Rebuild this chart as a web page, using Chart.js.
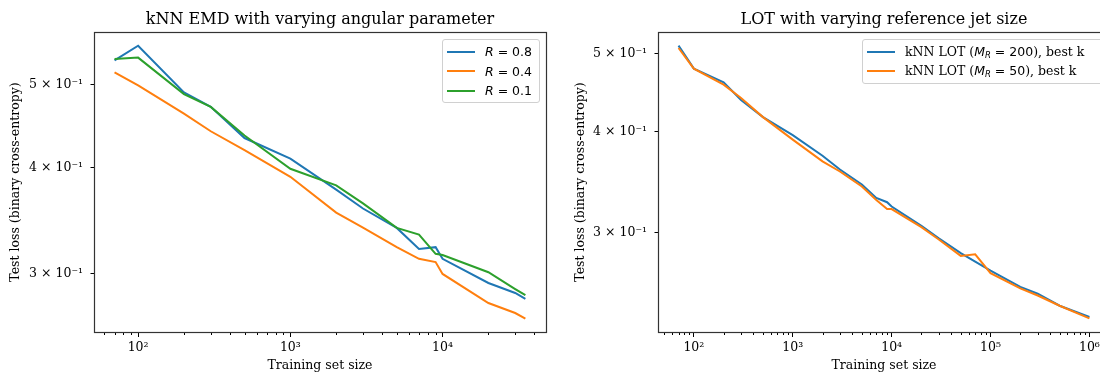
<!DOCTYPE html>
<html>
<head>
<meta charset="utf-8">
<script src="https://cdn.jsdelivr.net/npm/chart.js@4.4.1/dist/chart.umd.min.js"></script>
<style>
  html, body { margin: 0; padding: 0; background: #fff; }
  body { width: 1100px; height: 374px; overflow: hidden; position: relative; }
  .wrap { position: absolute; top: 0; height: 374px; }
  #wrapLeft { left: 0; width: 550px; }
  #wrapRight { left: 560px; width: 560px; }
  .legend {
    position: absolute; box-sizing: border-box; z-index: 5;
    border: 1px solid #d0d0d0; border-radius: 3px;
    background: rgba(255,255,255,0.8); padding-top: 2px;
    font-size: 12.5px; color: #000;
  }
  .legend .row { height: 19.5px; display: flex; align-items: center; white-space: nowrap; }
  .legend .swatch { width: 28px; height: 2px; margin-left: 4px; margin-right: 10px; flex: none; }
  .math { font-family: "DejaVu Sans", sans-serif; }
  .serif { font-family: "DejaVu Serif", serif; }
  sub { font-size: 8.5px; font-style: italic; vertical-align: -2px; }
</style>
</head>
<body>
<div class="wrap" id="wrapLeft"><canvas id="leftChart" width="550" height="374"></canvas></div>
<div class="wrap" id="wrapRight"><canvas id="rightChart" width="560" height="374"></canvas></div>
<div class="legend" id="legendLeft" style="left:442px; top:39px; width:98px; height:64px;"></div>
<div class="legend" id="legendRight" style="left:862px; top:39px; width:242px; height:45px;"></div>

<script>
// ---- data ----
const sizesLeft = [70, 100, 200, 300, 500, 1000, 2000, 3000, 5000, 7000, 9000, 10000, 20000, 30000, 35000];
const lossR08 = [0.534, 0.5555, 0.4897, 0.471, 0.433, 0.4095, 0.3767, 0.358, 0.3397, 0.321, 0.3225, 0.3125, 0.2928, 0.285, 0.2805];
const lossR04 = [0.517, 0.499, 0.4625, 0.441, 0.419, 0.390, 0.354, 0.340, 0.3225, 0.3125, 0.3098, 0.300, 0.2774, 0.270, 0.266];
const lossR01 = [0.536, 0.538, 0.4875, 0.471, 0.436, 0.3985, 0.381, 0.363, 0.3397, 0.3336, 0.3168, 0.3158, 0.3014, 0.288, 0.2833];

const sizesRight = [70, 100, 200, 300, 500, 1000, 2000, 3000, 5000, 7000, 9000, 10000, 20000, 30000, 50000, 70000, 100000, 200000, 300000, 500000, 1000000];
const lossLot200 = [0.5115, 0.479, 0.4605, 0.438, 0.417, 0.396, 0.3735, 0.359, 0.344, 0.331, 0.327, 0.323, 0.3057, 0.295, 0.2827, 0.276, 0.269, 0.2567, 0.2518, 0.2433, 0.2356];
const lossLot50 = [0.508, 0.479, 0.4576, 0.4405, 0.417, 0.391, 0.3675, 0.357, 0.342, 0.329, 0.3207, 0.3207, 0.3045, 0.294, 0.2805, 0.2818, 0.267, 0.2557, 0.2505, 0.2433, 0.2347];

const xTicksLeft = [100, 1000, 10000];
const xTickLabelsLeft = ['10²', '10³', '10⁴'];
const xTicksRight = [100, 1000, 10000, 100000, 1000000];
const xTickLabelsRight = ['10²', '10³', '10⁴', '10⁵', '10⁶'];
const yTicks = [0.3, 0.4, 0.5];
const yTickLabels = ['3 × 10⁻¹', '4 × 10⁻¹', '5 × 10⁻¹'];

const namesLeft = ['<i>R</i> = 0.8', '<i>R</i> = 0.4', '<i>R</i> = 0.1'];
const namesRight = [
  'kNN LOT (<span class="math"><i>M</i><sub>R</sub> = 200</span>), best k',
  'kNN LOT (<span class="math"><i>M</i><sub>R</sub> = 50</span>), best k'
];

const BLUE = '#1f77b4', ORANGE = '#ff7f0e', GREEN = '#2ca02c';
const SERIF = '"DejaVu Serif", serif';

function pts(xs, ys) {
  return xs.map((x, i) => ({ x: x, y: ys[i] }));
}

// axes frame + minor ticks on the log x axis; title centred over the axes
const framePlugin = {
  id: 'frame',
  afterLayout(chart) {
    const t = chart.titleBlock;
    const a = chart.chartArea;
    if (t) { t.left = a.left; t.right = a.right; t.width = a.right - a.left; }
  },
  afterDraw(chart) {
    const ctx = chart.ctx;
    const a = chart.chartArea;
    const xs = chart.scales.x;
    ctx.save();
    ctx.strokeStyle = '#000';
    ctx.lineWidth = 1;
    ctx.beginPath();
    const lo = Math.floor(Math.log10(xs.min)), hi = Math.ceil(Math.log10(xs.max));
    for (let d = lo; d <= hi; d++) {
      for (let m = 2; m <= 9; m++) {
        const v = m * Math.pow(10, d);
        if (v <= xs.min || v >= xs.max) continue;
        const px = Math.round(xs.getPixelForValue(v)) + 0.5;
        ctx.moveTo(px, Math.round(a.bottom));
        ctx.lineTo(px, Math.round(a.bottom) + 3);
      }
    }
    ctx.stroke();
    ctx.strokeStyle = '#333';
    ctx.lineWidth = 1.2;
    ctx.strokeRect(Math.round(a.left) + 0.5, Math.round(a.top) + 0.5,
      Math.round(a.right - a.left), Math.round(a.bottom - a.top));
    ctx.restore();
  }
};

function makeChart(id, cfg) {
  return new Chart(document.getElementById(id), {
    type: 'line',
    data: { datasets: cfg.datasets },
    options: {
      responsive: false,
      animation: false,
      layout: { padding: { left: 0, right: cfg.padRight, top: 0, bottom: 0 } },
      plugins: {
        legend: { display: false },
        tooltip: { enabled: false },
        title: {
          display: true,
          text: cfg.title,
          color: '#000',
          font: { family: SERIF, size: 16, weight: 'normal' },
          padding: { top: 10, bottom: 2.8 }
        }
      },
      elements: { point: { radius: 0 }, line: { borderWidth: 2, tension: 0 } },
      scales: {
        x: {
          type: 'logarithmic',
          min: cfg.xMin, max: cfg.xMax,
          afterFit: s => { s.height = 42; },
          afterBuildTicks: s => { s.ticks = cfg.xTicks.map(v => ({ value: v, major: true })); },
          ticks: {
            autoSkip: false, maxRotation: 0, padding: 3, color: '#000',
            font: { family: SERIF, size: 12.5 },
            callback: (v, i) => cfg.xLabels[i]
          },
          grid: { display: true, drawOnChartArea: false, drawTicks: true, tickLength: 5, color: '#000' },
          border: { display: false },
          title: {
            display: true, text: 'Training set size', color: '#000',
            font: { family: SERIF, size: 12.5 },
            padding: { top: 0, bottom: 0.5 }
          }
        },
        y: {
          type: 'logarithmic',
          min: cfg.yMin, max: cfg.yMax,
          afterFit: s => { s.width = cfg.yWidth; },
          afterBuildTicks: s => { s.ticks = yTicks.map(v => ({ value: v })); },
          ticks: {
            autoSkip: false, padding: 7.5, color: '#000',
            font: { family: SERIF, size: 12.5 },
            callback: (v, i) => yTickLabels[i]
          },
          grid: { display: true, drawOnChartArea: false, drawTicks: true, tickLength: 3.5, color: '#000' },
          border: { display: false },
          title: {
            display: true, text: 'Test loss (binary cross-entropy)', color: '#000',
            font: { family: SERIF, size: 12.5 },
            padding: { top: cfg.yTitlePad, bottom: 0 }
          }
        }
      }
    },
    plugins: [framePlugin]
  });
}

const leftSets = [
  { label: 'R = 0.8', data: pts(sizesLeft, lossR08), borderColor: BLUE, order: 3 },
  { label: 'R = 0.4', data: pts(sizesLeft, lossR04), borderColor: ORANGE, order: 2 },
  { label: 'R = 0.1', data: pts(sizesLeft, lossR01), borderColor: GREEN, order: 1 }
];
const rightSets = [
  { label: 'kNN LOT (M_R = 200), best k', data: pts(sizesRight, lossLot200), borderColor: BLUE, order: 2 },
  { label: 'kNN LOT (M_R = 50), best k', data: pts(sizesRight, lossLot50), borderColor: ORANGE, order: 1 }
];
leftSets.concat(rightSets).forEach(d => { d.fill = false; d.backgroundColor = d.borderColor; });

makeChart('leftChart', {
  datasets: leftSets,
  title: 'kNN EMD with varying angular parameter',
  xMin: 51.3, xMax: 47800, yMin: 0.2565, yMax: 0.5765,
  xTicks: xTicksLeft, xLabels: xTickLabelsLeft,
  yWidth: 94, padRight: 4, yTitlePad: 8.5
});

makeChart('rightChart', {
  datasets: rightSets,
  title: 'LOT with varying reference jet size',
  xMin: 43.4, xMax: 1615000, yMin: 0.2257, yMax: 0.5318,
  xTicks: xTicksRight, xLabels: xTickLabelsRight,
  yWidth: 98, padRight: 10, yTitlePad: 13
});

function fillLegend(elId, sets, names, cls) {
  const box = document.getElementById(elId);
  sets.forEach((d, i) => {
    const row = document.createElement('div');
    row.className = 'row ' + cls;
    row.innerHTML = '<span class="swatch" style="background:' + d.borderColor + '"></span><span>' + names[i] + '</span>';
    box.appendChild(row);
  });
}
fillLegend('legendLeft', leftSets, namesLeft, 'math');
fillLegend('legendRight', rightSets, namesRight, 'serif');
</script>
</body>
</html>
